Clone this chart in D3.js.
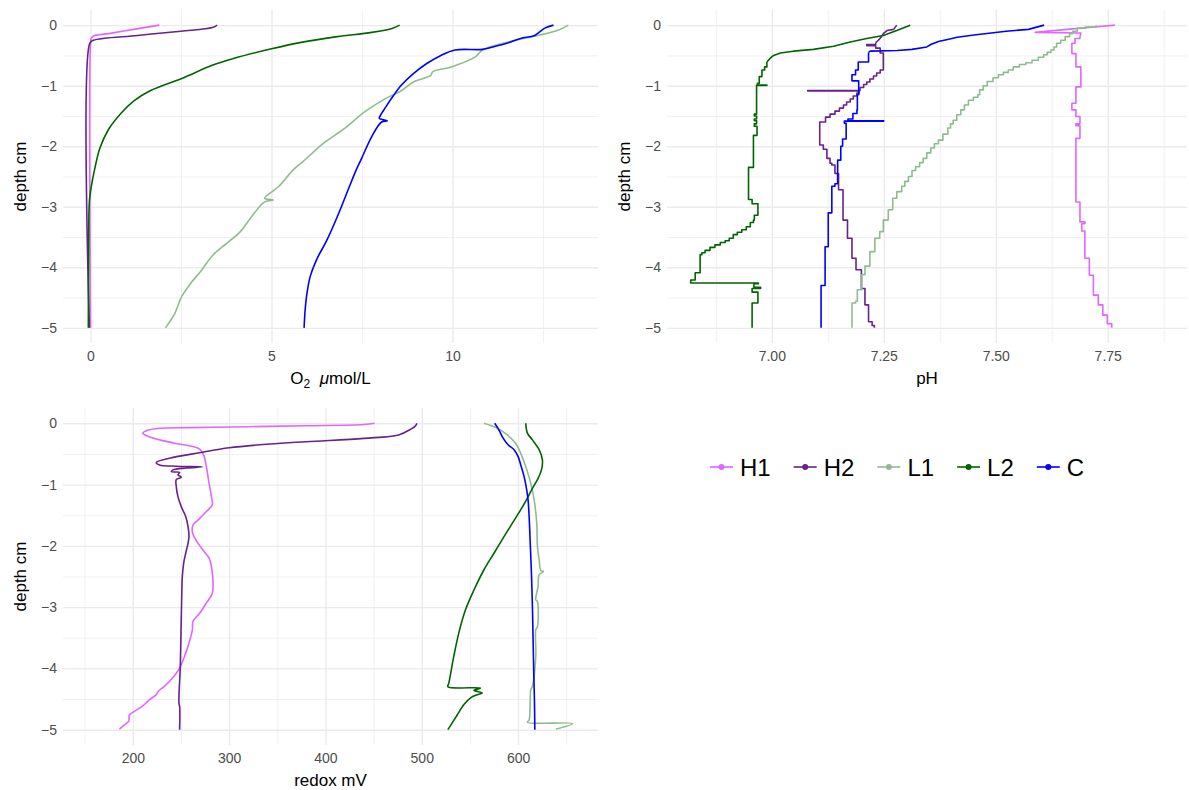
<!DOCTYPE html>
<html>
<head>
<meta charset="utf-8">
<script src="https://cdn.jsdelivr.net/npm/d3@7"></script>
<style>
  body { margin: 0; background: #fff; }
  svg { display: block; font-family: "Liberation Sans", Arial, Helvetica, sans-serif; }
  .grid path { display: none; }
  .grid line { stroke: #EBEBEB; }
  .axis path, .axis line { display: none; }
  .axis text { fill: #4D4D4D; font-size: 14px; }
  .title { fill: #000; font-size: 17px; }
</style>
</head>
<body>
<div id="chart"></div>
<script>
// ---- data: [value, depth cm] ----
const series = ["H1", "H2", "L1", "L2", "C"]

const depthTicks = [0, -1, -2, -3, -4, -5]
const depthMinor = [-0.5, -1.5, -2.5, -3.5, -4.5]

const o2Ticks = [0, 5, 10]
const o2Minor = [2.5, 7.5, 12.5]
const phTicks = [7.00, 7.25, 7.50, 7.75]
const phMinor = [6.875, 7.125, 7.375, 7.625, 7.875]
const redoxTicks = [200, 300, 400, 500, 600]
const redoxMinor = [150, 250, 350, 450, 550, 650]

// O2 umol/L
const o2H1 = [[1.9,0],[1.2,-0.07],[0.5,-0.14],[0.08,-0.18],[0.02,-0.22],[0.0,-0.3],[0.0,-5]]
const o2H2 = [[3.5,0],[3.37,-0.04],[2.5,-0.1],[1.3,-0.17],[0.08,-0.25],[-0.02,-0.3],[-0.03,-5]]
const o2L1 = [[13.2,0],[12.94,-0.08],[12.36,-0.17],[11.6,-0.27],[10.83,-0.41],[10.64,-0.52],[9.97,-0.69],
  [9.45,-0.77],[9.4,-0.83],[8.92,-0.94],[8.54,-1.10],[8.16,-1.21],[7.58,-1.43],[7.01,-1.71],[6.44,-1.95],
  [5.86,-2.26],[5.6,-2.39],[5.19,-2.67],[4.81,-2.86],[5.05,-2.89],[4.81,-2.92],[4.48,-3.14],[4.14,-3.41],
  [3.77,-3.60],[3.38,-3.80],[3.04,-4.07],[2.8,-4.24],[2.52,-4.48],[2.33,-4.76],[2.07,-5.0]]
const o2L2 = [[8.54,0],[8.35,-0.05],[7.77,-0.12],[6.82,-0.19],[5.86,-0.28],[5.0,-0.39],[3.95,-0.55],
  [3.38,-0.66],[2.52,-0.88],[1.66,-1.08],[1.2,-1.25],[0.85,-1.45],[0.5,-1.72],[0.26,-2.03],
  [0.1,-2.42],[0.03,-2.64],[-0.03,-2.9],[-0.05,-3.6],[-0.06,-5]]
const o2C = [[12.79,0],[12.55,-0.05],[12.27,-0.17],[11.88,-0.22],[11.5,-0.30],[11.12,-0.36],[10.83,-0.40],
  [10.07,-0.41],[9.68,-0.50],[9.3,-0.63],[8.92,-0.80],[8.59,-0.99],[8.35,-1.18],[8.16,-1.35],[8.01,-1.49],
  [7.98,-1.54],[8.2,-1.58],[8.04,-1.6],[7.77,-1.84],[7.49,-2.2],[7.34,-2.39],[7.15,-2.67],[6.82,-3.16],
  [6.53,-3.55],[6.24,-3.88],[6.07,-4.15],[5.98,-4.43],[5.93,-4.70],[5.9,-5.0]]

// pH: sloped top parts (drawn straight) ...
const phH1Top = [[7.766,0],[7.72,-0.03],[7.66,-0.07],[7.588,-0.12],[7.69,-0.13],[7.688,-0.19]]
const phH2Top = [[7.279,0],[7.272,-0.07],[7.257,-0.09],[7.249,-0.14],[7.245,-0.19],[7.238,-0.25],[7.232,-0.29]]
const phL2Top = [[7.309,0],[7.279,-0.09],[7.249,-0.17],[7.212,-0.22],[7.175,-0.28],[7.138,-0.35],
  [7.093,-0.40],[7.048,-0.43],[7.019,-0.46],[7.004,-0.50],[6.996,-0.55],[6.989,-0.61]]
const phCTop = [[7.608,0],[7.573,-0.07],[7.523,-0.10],[7.49,-0.13],[7.456,-0.16],[7.414,-0.2],[7.39,-0.24],
  [7.372,-0.27],[7.355,-0.32],[7.346,-0.36],[7.313,-0.40],[7.28,-0.42],[7.22,-0.43],[7.216,-0.45]]

// ... and stepped readings (value held from its depth down to the next one)
const phH1 = [[7.688,-0.19],[7.677,-0.22],[7.67,-0.3],[7.679,-0.47],
  [7.69,-0.69],[7.679,-1.02],[7.67,-1.29],[7.679,-1.40],[7.688,-1.51],[7.679,-1.63],[7.688,-1.66],
  [7.679,-1.87],[7.688,-2.92],[7.699,-3.25],[7.692,-3.28],[7.699,-3.40],[7.709,-3.85],[7.718,-4.13],
  [7.729,-4.46],[7.739,-4.62],[7.749,-4.79],[7.759,-4.93],[7.759,-5.0]]
const phH2 = [[7.232,-0.29],[7.212,-0.32],[7.232,-0.34],[7.242,-0.38],[7.249,-0.46],[7.242,-0.74],[7.234,-0.79],[7.227,-0.84],
  [7.219,-0.89],[7.212,-0.94],[7.205,-0.98],[7.197,-1.03],[7.08,-1.08],[7.195,-1.085],[7.19,-1.12],
  [7.182,-1.17],[7.175,-1.22],[7.167,-1.27],[7.16,-1.32],[7.151,-1.37],[7.141,-1.42],[7.13,-1.47],
  [7.12,-1.52],[7.107,-1.60],[7.115,-1.98],[7.123,-2.05],[7.13,-2.20],[7.134,-2.28],[7.141,-2.31],
  [7.149,-2.45],[7.159,-2.72],[7.169,-3.22],[7.179,-3.52],[7.188,-3.85],[7.2,-4.04],[7.208,-4.35],
  [7.216,-4.62],[7.224,-4.9],[7.229,-4.96],[7.229,-5.0]]
const phL1 = [[7.724,0],[7.70,-0.03],[7.682,-0.05],[7.672,-0.10],[7.665,-0.14],[7.655,-0.19],[7.645,-0.25],
  [7.636,-0.30],[7.63,-0.36],[7.623,-0.41],[7.615,-0.45],[7.607,-0.49],[7.595,-0.53],[7.581,-0.58],
  [7.567,-0.62],[7.553,-0.65],[7.539,-0.69],[7.528,-0.74],[7.517,-0.78],[7.506,-0.82],[7.494,-0.87],
  [7.481,-0.93],[7.472,-1.0],[7.464,-1.07],[7.46,-1.15],[7.45,-1.19],[7.439,-1.24],[7.43,-1.32],
  [7.422,-1.40],[7.413,-1.48],[7.405,-1.57],[7.399,-1.63],[7.393,-1.70],[7.382,-1.80],[7.372,-1.90],
  [7.363,-1.96],[7.355,-2.03],[7.346,-2.11],[7.338,-2.2],[7.33,-2.27],[7.321,-2.34],[7.313,-2.40],
  [7.305,-2.5],[7.297,-2.58],[7.290,-2.66],[7.279,-2.75],[7.27,-2.86],[7.26,-3.05],[7.249,-3.22],
  [7.241,-3.41],[7.23,-3.52],[7.219,-3.74],[7.208,-3.98],[7.201,-4.12],[7.191,-4.37],[7.187,-4.56],
  [7.179,-4.59],[7.179,-5.0]]
const phL2 = [[6.989,-0.61],[6.984,-0.69],[6.978,-0.74],
  [6.972,-0.85],[6.968,-0.96],[6.989,-0.99],[6.966,-0.995],[6.961,-1.47],[6.966,-1.50],[6.961,-1.55],
  [6.966,-1.58],[6.961,-1.63],[6.967,-1.67],[6.959,-1.82],[6.948,-2.35],[6.956,-2.88],[6.969,-2.95],
  [6.961,-3.14],[6.959,-3.22],[6.952,-3.26],[6.943,-3.33],[6.933,-3.38],[6.923,-3.42],[6.914,-3.46],
  [6.905,-3.52],[6.896,-3.56],[6.885,-3.59],[6.873,-3.63],[6.862,-3.67],[6.851,-3.72],[6.844,-3.76],
  [6.840,-3.79],[6.829,-4.09],[6.819,-4.21],[6.970,-4.26],[6.96,-4.27],[6.975,-4.33],[6.956,-4.35],
  [6.969,-4.41],[6.956,-4.59],[6.956,-5.0]]
const phC = [[7.216,-0.45],[7.193,-0.61],
  [7.187,-0.74],[7.179,-0.82],[7.194,-0.92],[7.191,-1.15],[7.19,-1.40],[7.181,-1.46],[7.17,-1.55],
  [7.25,-1.58],[7.162,-1.585],[7.166,-1.62],[7.158,-1.88],[7.154,-2.0],[7.147,-2.23],[7.141,-2.62],
  [7.134,-2.66],[7.126,-3.1],[7.119,-3.66],[7.11,-4.3],[7.11,-5.0]]

// redox mV
const redoxH1 = [[451,0],[440,-0.02],[380,-0.04],[320,-0.055],[260,-0.07],[228,-0.08],[214,-0.12],
  [210.4,-0.16],[215.6,-0.21],[227.8,-0.27],[245,-0.33],[262.5,-0.38],[269.4,-0.42],[273.6,-0.52],
  [276.4,-0.71],[279.2,-0.98],[281.6,-1.20],[282.6,-1.33],[276.4,-1.44],[267.7,-1.58],[262.5,-1.66],
  [261.8,-1.77],[265.3,-1.90],[272.9,-2.07],[279.2,-2.20],[281.6,-2.34],[282.6,-2.77],[276.4,-2.93],
  [269.4,-3.10],[262.5,-3.23],[261.8,-3.37],[257.3,-3.64],[253.8,-3.80],[249.3,-3.97],[245.1,-4.08],
  [238.2,-4.21],[233,-4.29],[226,-4.38],[224.3,-4.43],[217.4,-4.51],[209.7,-4.62],[201.7,-4.70],
  [196.5,-4.76],[195.8,-4.86],[191.3,-4.92],[186.1,-4.99]]
const redoxH2 = [[495,0],[493,-0.05],[488,-0.1],[476,-0.19],[440,-0.245],[380,-0.30],[332,-0.35],
  [300,-0.40],[269.4,-0.48],[238.2,-0.57],[224.3,-0.64],[227.8,-0.68],[245.1,-0.70],[272.2,-0.71],
  [255.6,-0.73],[241.7,-0.76],[240,-0.79],[248.6,-0.80],[246.9,-0.84],[250.3,-0.88],[245.1,-0.92],
  [245.1,-1.03],[246.9,-1.20],[250.3,-1.36],[254.9,-1.52],[257.3,-1.68],[258.3,-1.85],[257.3,-1.96],
  [254.9,-2.12],[252.8,-2.28],[251.4,-2.50],[250.7,-2.88],[250,-3.42],[249.3,-3.97],[247.9,-4.57],
  [248.6,-4.62],[248.6,-5.0]]
const redoxL1 = [[564.6,0],[578.5,-0.08],[588.9,-0.19],[597.6,-0.33],[602.8,-0.49],[608,-0.71],
  [613.2,-0.98],[616.7,-1.25],[619.4,-1.63],[620.1,-2.01],[621.9,-2.23],[623.6,-2.40],[626.4,-2.42],
  [621.9,-2.47],[620.8,-2.66],[618.4,-2.88],[620.1,-2.91],[620.1,-3.32],[618.4,-3.37],[618.4,-3.80],
  [614.9,-4.29],[613.2,-4.35],[612.5,-4.62],[611.5,-4.84],[609.7,-4.88],[656.6,-4.90],[639.2,-4.99]]
const redoxL2 = [[608,0],[609.7,-0.16],[614.9,-0.27],[621.9,-0.43],[625.3,-0.60],[624.3,-0.76],
  [620.1,-0.92],[614.9,-1.06],[609.7,-1.22],[602.8,-1.41],[594.1,-1.63],[585.4,-1.85],[575,-2.12],
  [564.6,-2.39],[554.2,-2.72],[545.5,-3.04],[538.5,-3.42],[533.3,-3.80],[528.1,-4.24],[527.1,-4.30],
  [561.1,-4.32],[554.2,-4.36],[562.8,-4.40],[557.6,-4.43],[550.7,-4.48],[543.8,-4.59],[536.8,-4.76],
  [531.6,-4.89],[527.1,-5.0]]
const redoxC = [[575.7,0],[580.2,-0.11],[583.7,-0.22],[589.6,-0.35],[595.8,-0.43],[600,-0.54],
  [602.8,-0.68],[606.3,-0.87],[609,-1.09],[610.4,-1.25],[611.5,-1.52],[612.5,-1.90],[613.9,-2.45],
  [614.9,-2.99],[615.6,-3.53],[616.3,-4.08],[617,-4.51],[617.4,-5.0]]

// ---- styles ----
const colors = { H1: "#E066FF", H2: "#68228B", L1: "#8FBC8F", L2: "#006400", C: "#0000FF" }

const width = 1189
const height = 790

const svg = d3.select("#chart")
  .append("svg")
  .attr("width", width)
  .attr("height", height)

const fmtDepth = d => d < 0 ? "\u2212" + Math.abs(d) : String(d)

function drawPanel(p)
{
  const x = d3.scaleLinear().domain(p.xDomain).range([p.left, p.right])
  const y = d3.scaleLinear().domain([-5.25, 0.25]).range([p.bottom, p.top])
  const w = p.right - p.left
  const h = p.bottom - p.top

  // grid
  svg.append("g").attr("class", "grid")
    .attr("transform", `translate(${p.left},0)`)
    .call(d3.axisLeft(y).tickValues(depthMinor).tickSize(-w).tickFormat(""))
    .selectAll("line").attr("stroke-width", 0.7)
  svg.append("g").attr("class", "grid")
    .attr("transform", `translate(0,${p.bottom})`)
    .call(d3.axisBottom(x).tickValues(p.minor).tickSize(-h).tickFormat(""))
    .selectAll("line").attr("stroke-width", 0.7)
  svg.append("g").attr("class", "grid")
    .attr("transform", `translate(${p.left},0)`)
    .call(d3.axisLeft(y).tickValues(depthTicks).tickSize(-w).tickFormat(""))
    .selectAll("line").attr("stroke-width", 1.4)
  svg.append("g").attr("class", "grid")
    .attr("transform", `translate(0,${p.bottom})`)
    .call(d3.axisBottom(x).tickValues(p.ticks).tickSize(-h).tickFormat(""))
    .selectAll("line").attr("stroke-width", 1.4)

  // lines
  const line = d3.line()
    .x(d => x(d[0]))
    .y(d => y(d[1]))
    .curve(p.curve)
  const straight = d3.line()
    .x(d => x(d[0]))
    .y(d => y(d[1]))

  series.forEach(s => {
    const path = (p.top2 && p.top2[s] ? straight(p.top2[s]) : "") + line(p.data[s])
    svg.append("path")
      .attr("d", path)
      .attr("fill", "none")
      .attr("stroke", colors[s])
      .attr("stroke-width", 1.6)
      .attr("stroke-linejoin", "round")
  })

  // axes text
  svg.append("g").attr("class", "axis")
    .attr("transform", `translate(${p.left - 6},0)`)
    .call(d3.axisLeft(y).tickValues(depthTicks).tickSize(0).tickPadding(0).tickFormat(fmtDepth))
  svg.append("g").attr("class", "axis")
    .attr("transform", `translate(0,${p.bottom + 8})`)
    .call(d3.axisBottom(x).tickValues(p.ticks).tickSize(0).tickPadding(0).tickFormat(p.fmt))

  // titles
  const xt = svg.append("text").attr("class", "title")
    .attr("x", (p.left + p.right) / 2)
    .attr("y", p.bottom + 41)
    .attr("text-anchor", "middle")
  p.title(xt)

  svg.append("text").attr("class", "title")
    .attr("transform", `translate(${p.left - 37},${(p.top + p.bottom) / 2}) rotate(-90)`)
    .attr("text-anchor", "middle")
    .text("depth cm")
}

drawPanel({
  left: 63, right: 598, top: 10, bottom: 343,
  xDomain: [-0.76, 14.02],
  ticks: o2Ticks, minor: o2Minor, fmt: d3.format("d"),
  curve: d3.curveCatmullRom.alpha(0.5),
  data: { H1: o2H1, H2: o2H2, L1: o2L1, L2: o2L2, C: o2C },
  title: t => {
    t.append("tspan").text("O")
    t.append("tspan").attr("font-size", 12).attr("dy", 4).text("2")
    t.append("tspan").attr("dy", -4).text("\u00A0\u00A0")
    t.append("tspan").attr("font-style", "italic").text("\u03BC")
    t.append("tspan").text("mol/L")
  }
})

drawPanel({
  left: 667, right: 1187, top: 10, bottom: 343,
  xDomain: [6.766, 7.927],
  ticks: phTicks, minor: phMinor, fmt: d3.format(".2f"),
  curve: d3.curveStepBefore,
  top2: { H1: phH1Top, H2: phH2Top, L2: phL2Top, C: phCTop },
  data: { H1: phH1, H2: phH2, L1: phL1, L2: phL2, C: phC },
  title: t => t.text("pH")
})

drawPanel({
  left: 63, right: 598, top: 408, bottom: 745,
  xDomain: [127.5, 683],
  ticks: redoxTicks, minor: redoxMinor, fmt: d3.format("d"),
  curve: d3.curveCatmullRom.alpha(0.5),
  data: { H1: redoxH1, H2: redoxH2, L1: redoxL1, L2: redoxL2, C: redoxC },
  title: t => t.text("redox mV")
})

// legend
const legend = svg.append("g").attr("transform", "translate(710,467)")
let lx = 0
series.forEach(s => {
  const g = legend.append("g").attr("transform", `translate(${lx},0)`)
  g.append("line").attr("x1", 0).attr("x2", 23)
    .attr("stroke", colors[s]).attr("stroke-width", 1.6)
  g.append("circle").attr("cx", 11.5).attr("r", 3).attr("fill", colors[s])
  const t = g.append("text").attr("x", 30).attr("y", 8.5)
    .attr("font-size", 24).attr("fill", "#000").text(s)
  lx += 30 + t.node().getComputedTextLength() + 23
})
</script>
</body>
</html>
